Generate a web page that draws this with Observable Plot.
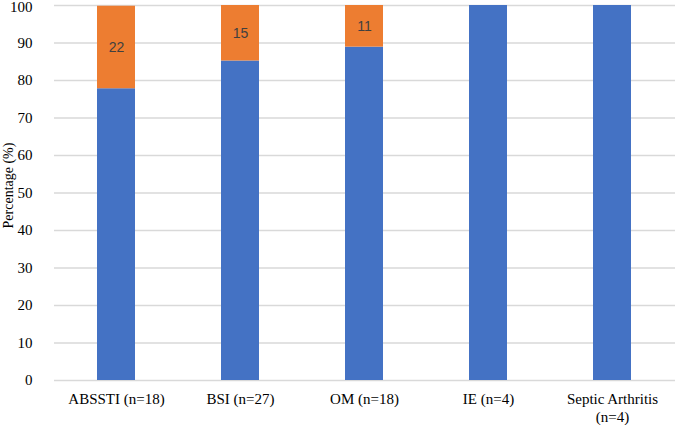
<!DOCTYPE html>
<html><head><meta charset="utf-8">
<script src="https://cdn.jsdelivr.net/npm/d3@7"></script>
<script src="https://cdn.jsdelivr.net/npm/@observablehq/plot@0.6"></script>
<style>body{margin:0;background:#fff} svg{display:block;overflow:visible}</style>
</head><body><div id="chart"></div>
<script>
const categories = ["ABSSTI (n=18)", "BSI (n=27)", "OM (n=18)", "IE (n=4)", "Septic Arthritis (n=4)"];
const tickLabels = ["ABSSTI (n=18)", "BSI (n=27)", "OM (n=18)", "IE (n=4)", "Septic Arthritis\n(n=4)"];
const seriesNames = ["Series 1", "Series 2"];
const seriesColors = ["#4472C4", "#ED7D31"];
const series1Values = [77.8, 85.2, 88.9, 100, 100];
const series2Values = [22, 14.8, 11.1, 0, 0];
const series2Labels = ["22", "15", "11", "", ""];
const yTicks = [0, 10, 20, 30, 40, 50, 60, 70, 80, 90, 100];
const yLabel = "Percentage (%)";

const rows = [];
categories.forEach((c, i) => rows.push({cat: c, series: seriesNames[0], value: series1Values[i]}));
categories.forEach((c, i) => rows.push({cat: c, series: seriesNames[1], value: series2Values[i]}));
const labelRows = categories.map((c, i) => ({cat: c, mid: series1Values[i] + series2Values[i] / 2, text: series2Labels[i]}))
  .filter(d => d.text !== "");

const chart = Plot.plot({
  width: 675, height: 425,
  marginLeft: 54, marginRight: 0, marginTop: 5, marginBottom: 45,
  style: {fontFamily: "'Liberation Serif', 'Times New Roman', serif", fontSize: "15px", color: "#000", background: "#fff", overflow: "visible"},
  x: {domain: categories, paddingInner: 0.69, paddingOuter: 0.345, label: null},
  y: {domain: [0, 100], label: null},
  color: {domain: seriesNames, range: seriesColors},
  marks: [
    Plot.gridY(yTicks, {stroke: "#d9d9d9", strokeOpacity: 1, strokeWidth: 1.5}),
    Plot.barY(rows, {x: "cat", y: "value", fill: "series"}),
    Plot.axisY(yTicks.slice(0, -1), {tickSize: 0, tickPadding: 22, fontSize: 15, label: null}),
    Plot.axisY(yTicks.slice(-1), {tickSize: 0, tickPadding: 22, fontSize: 15, label: null, dy: 2}),
    Plot.axisX({tickSize: 0, tickPadding: 11, fontSize: 15, lineHeight: 1.2, label: null,
      tickFormat: d => tickLabels[categories.indexOf(d)]}),
    Plot.text(labelRows, {x: "cat", y: "mid", text: "text", fontFamily: "'Liberation Sans', Arial, sans-serif", fontSize: 14, fill: "#404040"}),
    Plot.text([{t: yLabel, y: 52}], {frameAnchor: "left", y: "y", text: "t", dx: -46, rotate: -90, textAnchor: "middle", fontSize: 14})
  ]
});
document.getElementById("chart").appendChild(chart);
</script>
</body></html>
